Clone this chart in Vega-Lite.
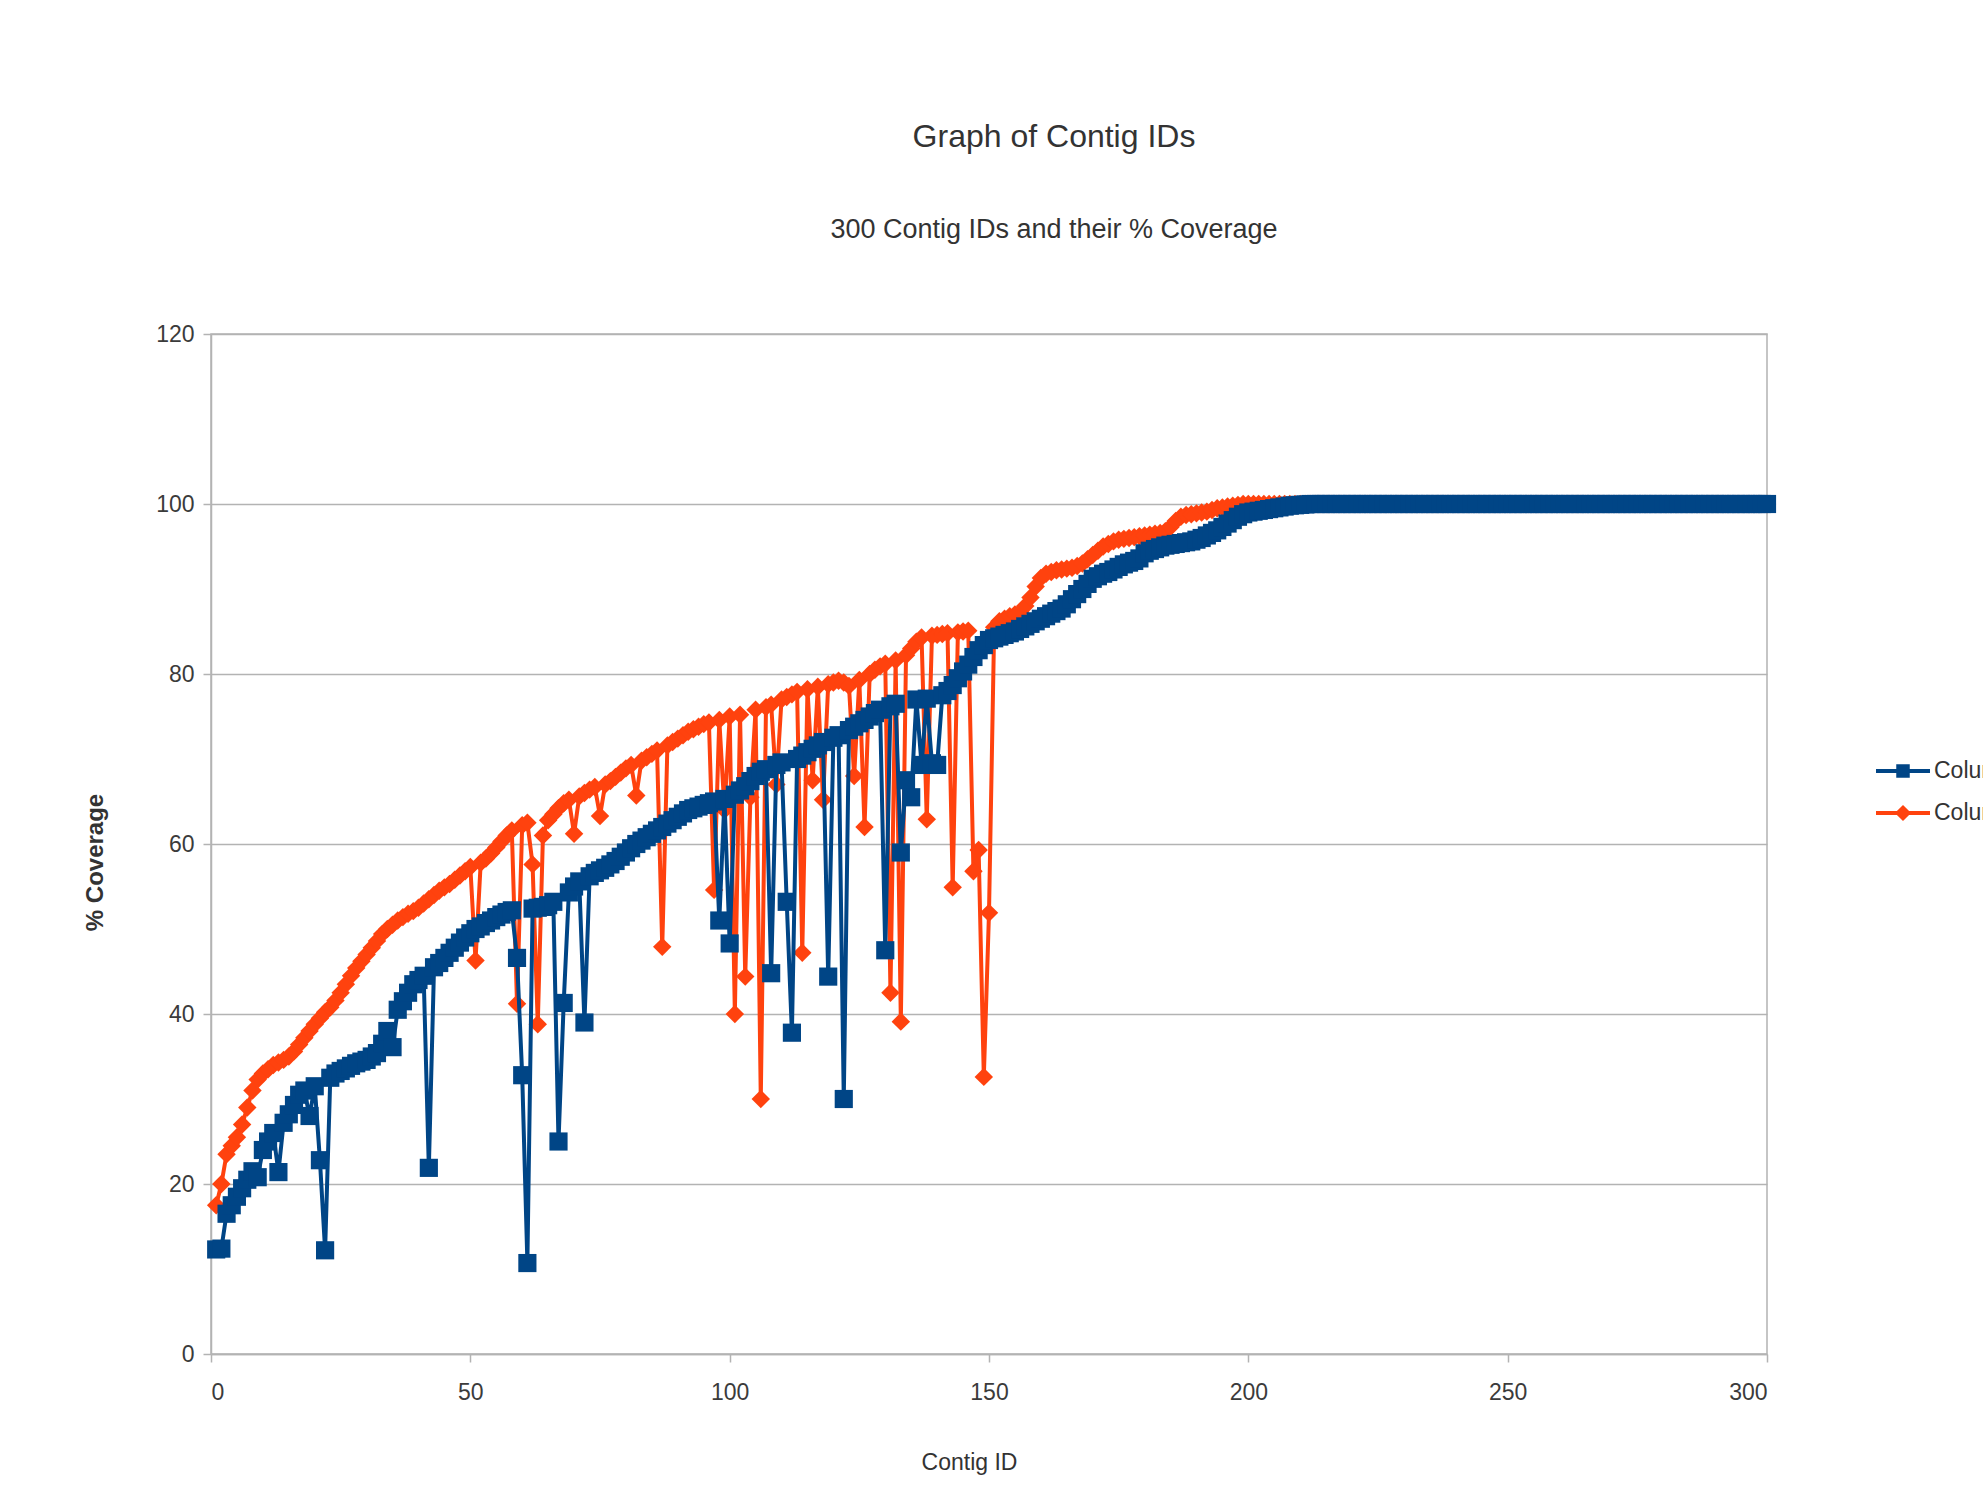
{
"$schema": "https://vega.github.io/schema/vega-lite/v6.json",
"width": 1556,
"height": 1020,
"autosize": {"type": "none"},
"padding": {"left": 211, "top": 334, "right": 216, "bottom": 135},
"background": "white",
"title": {"text": "Graph of Contig IDs", "subtitle": "300 Contig IDs and their % Coverage", "font": "Liberation Sans", "subtitleFont": "Liberation Sans", "fontSize": 32, "subtitleFontSize": 27, "fontWeight": "normal", "color": "#333333", "subtitleColor": "#333333", "anchor": "middle", "dx": 65, "offset": 79, "subtitlePadding": 63},
"data": {"values": [
{"id":1,"B":12.3,"C":17.5},{"id":2,"B":12.4,"C":20},{"id":3,"B":16.5,"C":23.5},{"id":4,"B":17.5,"C":24.5},{"id":5,"B":18.5,"C":25.5},
{"id":6,"B":19.5,"C":27},{"id":7,"B":20.5,"C":29},{"id":8,"B":21.5,"C":31},{"id":9,"B":20.8,"C":32.3},{"id":10,"B":24,"C":33},
{"id":11,"B":25,"C":33.5},{"id":12,"B":26,"C":34},{"id":13,"B":21.4,"C":34.3},{"id":14,"B":27.2,"C":34.6},{"id":15,"B":28.2,"C":35},
{"id":16,"B":29.3,"C":35.6},{"id":17,"B":30.5,"C":36.4},{"id":18,"B":31,"C":37.2},{"id":19,"B":28,"C":38},{"id":20,"B":31.5,"C":38.8},
{"id":21,"B":22.8,"C":39.5},{"id":22,"B":12.2,"C":40.2},{"id":23,"B":32.5,"C":40.8},{"id":24,"B":33,"C":41.6},{"id":25,"B":33.3,"C":42.5},
{"id":26,"B":33.6,"C":43.5},{"id":27,"B":33.9,"C":44.5},{"id":28,"B":34.2,"C":45.4},{"id":29,"B":34.4,"C":46.2},{"id":30,"B":34.6,"C":47},
{"id":31,"B":35,"C":47.8},{"id":32,"B":35.4,"C":48.6},{"id":33,"B":36.5,"C":49.4},{"id":34,"B":38,"C":50},{"id":35,"B":36.1,"C":50.5},
{"id":36,"B":40.5,"C":51},{"id":37,"B":41.5,"C":51.4},{"id":38,"B":42.5,"C":51.8},{"id":39,"B":43.5,"C":52.1},{"id":40,"B":44,"C":52.5},
{"id":41,"B":44.5,"C":53},{"id":42,"B":21.9,"C":53.5},{"id":43,"B":45.5,"C":54},{"id":44,"B":46,"C":54.5},{"id":45,"B":46.6,"C":54.9},
{"id":46,"B":47.2,"C":55.3},{"id":47,"B":47.8,"C":55.8},{"id":48,"B":48.4,"C":56.3},{"id":49,"B":49,"C":56.8},{"id":50,"B":49.5,"C":57.3},
{"id":51,"B":50,"C":46.3},{"id":52,"B":50.3,"C":57.8},{"id":53,"B":50.7,"C":58.3},{"id":54,"B":51,"C":58.9},{"id":55,"B":51.4,"C":59.6},
{"id":56,"B":51.7,"C":60.3},{"id":57,"B":52,"C":61},{"id":58,"B":52.2,"C":61.6},{"id":59,"B":46.6,"C":41.2},{"id":60,"B":32.8,"C":62.2},
{"id":61,"B":10.7,"C":62.5},{"id":62,"B":52.4,"C":57.6},{"id":63,"B":52.5,"C":38.8},{"id":64,"B":52.6,"C":61},{"id":65,"B":52.8,"C":62.8},
{"id":66,"B":53.2,"C":63.5},{"id":67,"B":25,"C":64.2},{"id":68,"B":41.3,"C":64.8},{"id":69,"B":54.3,"C":65.2},{"id":70,"B":55,"C":61.2},
{"id":71,"B":55.6,"C":65.6},{"id":72,"B":39,"C":66},{"id":73,"B":56.2,"C":66.4},{"id":74,"B":56.6,"C":66.7},{"id":75,"B":56.9,"C":63.3},
{"id":76,"B":57.2,"C":67},{"id":77,"B":57.6,"C":67.4},{"id":78,"B":58,"C":67.9},{"id":79,"B":58.5,"C":68.4},{"id":80,"B":59,"C":68.9},
{"id":81,"B":59.5,"C":69.3},{"id":82,"B":60,"C":65.7},{"id":83,"B":60.4,"C":69.8},{"id":84,"B":60.8,"C":70.2},{"id":85,"B":61.2,"C":70.6},
{"id":86,"B":61.6,"C":71},{"id":87,"B":62,"C":47.9},{"id":88,"B":62.4,"C":71.6},{"id":89,"B":62.8,"C":72},{"id":90,"B":63.2,"C":72.4},
{"id":91,"B":63.6,"C":72.8},{"id":92,"B":64,"C":73.2},{"id":93,"B":64.2,"C":73.5},{"id":94,"B":64.4,"C":73.8},{"id":95,"B":64.6,"C":74.1},
{"id":96,"B":64.8,"C":74.3},{"id":97,"B":65,"C":54.6},{"id":98,"B":51,"C":74.6},{"id":99,"B":65.3,"C":64},{"id":100,"B":48.3,"C":75},
{"id":101,"B":65.8,"C":40},{"id":102,"B":66.3,"C":75.2},{"id":103,"B":66.8,"C":44.4},{"id":104,"B":67.4,"C":65.5},{"id":105,"B":68,"C":75.8},
{"id":106,"B":68.5,"C":30},{"id":107,"B":68.8,"C":76.1},{"id":108,"B":44.8,"C":76.4},{"id":109,"B":69.3,"C":67},{"id":110,"B":69.6,"C":77},
{"id":111,"B":53.2,"C":77.3},{"id":112,"B":37.8,"C":77.6},{"id":113,"B":70,"C":77.9},{"id":114,"B":70.4,"C":47.2},{"id":115,"B":70.8,"C":78.2},
{"id":116,"B":71.2,"C":67.5},{"id":117,"B":71.6,"C":78.5},{"id":118,"B":72,"C":65.2},{"id":119,"B":44.4,"C":78.8},{"id":120,"B":72.5,"C":79},
{"id":121,"B":72.8,"C":79.2},{"id":122,"B":30,"C":79},{"id":123,"B":73.4,"C":78.6},{"id":124,"B":73.8,"C":68},{"id":125,"B":74.2,"C":79.3},
{"id":126,"B":74.6,"C":62},{"id":127,"B":75,"C":80},{"id":128,"B":75.4,"C":80.5},{"id":129,"B":75.8,"C":80.9},{"id":130,"B":47.5,"C":81.2},
{"id":131,"B":76.2,"C":42.5},{"id":132,"B":76.5,"C":81.6},{"id":133,"B":59,"C":39.1},{"id":134,"B":67.5,"C":82.2},{"id":135,"B":65.5,"C":83},
{"id":136,"B":77,"C":83.8},{"id":137,"B":69.3,"C":84.3},{"id":138,"B":77.1,"C":62.9},{"id":139,"B":69.5,"C":84.5},{"id":140,"B":69.3,"C":84.6},
{"id":141,"B":77.5,"C":84.7},{"id":142,"B":78,"C":84.8},{"id":143,"B":78.7,"C":54.9},{"id":144,"B":79.5,"C":84.9},{"id":145,"B":80.3,"C":85},
{"id":146,"B":81.1,"C":85.1},{"id":147,"B":82,"C":56.8},{"id":148,"B":82.8,"C":59.3},{"id":149,"B":83.4,"C":32.6},{"id":150,"B":84,"C":51.9},
{"id":151,"B":84.2,"C":85.5},{"id":152,"B":84.4,"C":86.2},{"id":153,"B":84.6,"C":86.5},{"id":154,"B":84.8,"C":86.8},{"id":155,"B":85,"C":87},
{"id":156,"B":85.3,"C":87.3},{"id":157,"B":85.6,"C":88},{"id":158,"B":85.9,"C":89},{"id":159,"B":86.2,"C":90.3},{"id":160,"B":86.5,"C":91.3},
{"id":161,"B":86.8,"C":91.8},{"id":162,"B":87.1,"C":92},{"id":163,"B":87.4,"C":92.2},{"id":164,"B":87.7,"C":92.3},{"id":165,"B":88.2,"C":92.4},
{"id":166,"B":88.8,"C":92.5},{"id":167,"B":89.4,"C":92.7},{"id":168,"B":90,"C":93},{"id":169,"B":90.6,"C":93.5},{"id":170,"B":91.2,"C":94},
{"id":171,"B":91.5,"C":94.5},{"id":172,"B":91.8,"C":95},{"id":173,"B":92,"C":95.3},{"id":174,"B":92.3,"C":95.6},{"id":175,"B":92.6,"C":95.8},
{"id":176,"B":92.9,"C":95.9},{"id":177,"B":93.1,"C":96},{"id":178,"B":93.3,"C":96.1},{"id":179,"B":93.6,"C":96.2},{"id":180,"B":94.2,"C":96.3},
{"id":181,"B":94.5,"C":96.4},{"id":182,"B":94.7,"C":96.5},{"id":183,"B":94.9,"C":96.6},{"id":184,"B":95.1,"C":96.8},{"id":185,"B":95.2,"C":97.3},
{"id":186,"B":95.3,"C":98},{"id":187,"B":95.4,"C":98.5},{"id":188,"B":95.5,"C":98.7},{"id":189,"B":95.6,"C":98.8},{"id":190,"B":95.8,"C":98.9},
{"id":191,"B":96,"C":99},{"id":192,"B":96.3,"C":99.1},{"id":193,"B":96.6,"C":99.3},{"id":194,"B":96.9,"C":99.5},{"id":195,"B":97.3,"C":99.6},
{"id":196,"B":97.7,"C":99.7},{"id":197,"B":98.1,"C":99.8},{"id":198,"B":98.5,"C":99.9},{"id":199,"B":98.8,"C":100},{"id":200,"B":99,"C":100},
{"id":201,"B":99.1,"C":100},{"id":202,"B":99.2,"C":100},{"id":203,"B":99.3,"C":100},{"id":204,"B":99.4,"C":100},{"id":205,"B":99.5,"C":100},
{"id":206,"B":99.6,"C":100},{"id":207,"B":99.7,"C":100},{"id":208,"B":99.8,"C":100},{"id":209,"B":99.85,"C":100},{"id":210,"B":99.9,"C":100},
{"id":211,"B":99.95,"C":100},{"id":212,"B":100,"C":100},{"id":213,"B":100,"C":100},{"id":214,"B":100,"C":100},{"id":215,"B":100,"C":100},
{"id":216,"B":100,"C":100},{"id":217,"B":100,"C":100},{"id":218,"B":100,"C":100},{"id":219,"B":100,"C":100},{"id":220,"B":100,"C":100},
{"id":221,"B":100,"C":100},{"id":222,"B":100,"C":100},{"id":223,"B":100,"C":100},{"id":224,"B":100,"C":100},{"id":225,"B":100,"C":100},
{"id":226,"B":100,"C":100},{"id":227,"B":100,"C":100},{"id":228,"B":100,"C":100},{"id":229,"B":100,"C":100},{"id":230,"B":100,"C":100},
{"id":231,"B":100,"C":100},{"id":232,"B":100,"C":100},{"id":233,"B":100,"C":100},{"id":234,"B":100,"C":100},{"id":235,"B":100,"C":100},
{"id":236,"B":100,"C":100},{"id":237,"B":100,"C":100},{"id":238,"B":100,"C":100},{"id":239,"B":100,"C":100},{"id":240,"B":100,"C":100},
{"id":241,"B":100,"C":100},{"id":242,"B":100,"C":100},{"id":243,"B":100,"C":100},{"id":244,"B":100,"C":100},{"id":245,"B":100,"C":100},
{"id":246,"B":100,"C":100},{"id":247,"B":100,"C":100},{"id":248,"B":100,"C":100},{"id":249,"B":100,"C":100},{"id":250,"B":100,"C":100},
{"id":251,"B":100,"C":100},{"id":252,"B":100,"C":100},{"id":253,"B":100,"C":100},{"id":254,"B":100,"C":100},{"id":255,"B":100,"C":100},
{"id":256,"B":100,"C":100},{"id":257,"B":100,"C":100},{"id":258,"B":100,"C":100},{"id":259,"B":100,"C":100},{"id":260,"B":100,"C":100},
{"id":261,"B":100,"C":100},{"id":262,"B":100,"C":100},{"id":263,"B":100,"C":100},{"id":264,"B":100,"C":100},{"id":265,"B":100,"C":100},
{"id":266,"B":100,"C":100},{"id":267,"B":100,"C":100},{"id":268,"B":100,"C":100},{"id":269,"B":100,"C":100},{"id":270,"B":100,"C":100},
{"id":271,"B":100,"C":100},{"id":272,"B":100,"C":100},{"id":273,"B":100,"C":100},{"id":274,"B":100,"C":100},{"id":275,"B":100,"C":100},
{"id":276,"B":100,"C":100},{"id":277,"B":100,"C":100},{"id":278,"B":100,"C":100},{"id":279,"B":100,"C":100},{"id":280,"B":100,"C":100},
{"id":281,"B":100,"C":100},{"id":282,"B":100,"C":100},{"id":283,"B":100,"C":100},{"id":284,"B":100,"C":100},{"id":285,"B":100,"C":100},
{"id":286,"B":100,"C":100},{"id":287,"B":100,"C":100},{"id":288,"B":100,"C":100},{"id":289,"B":100,"C":100},{"id":290,"B":100,"C":100},
{"id":291,"B":100,"C":100},{"id":292,"B":100,"C":100},{"id":293,"B":100,"C":100},{"id":294,"B":100,"C":100},{"id":295,"B":100,"C":100},
{"id":296,"B":100,"C":100},{"id":297,"B":100,"C":100},{"id":298,"B":100,"C":100},{"id":299,"B":100,"C":100},{"id":300,"B":100,"C":100}
]},
"encoding": {
  "x": {"field": "id", "type": "quantitative", "scale": {"domain": [0, 300], "nice": false, "zero": false},
        "axis": {"values": [0, 50, 100, 150, 200, 250, 300], "grid": false, "title": "Contig ID", "titleX": 758, "titleY": 108, "titleBaseline": "middle"}},
  "y": {"type": "quantitative", "scale": {"domain": [0, 120], "nice": false},
        "axis": {"values": [0, 20, 40, 60, 80, 100, 120], "grid": true, "title": "% Coverage", "titleFontWeight": "bold", "titleFontSize": 24, "titleX": -116, "titleY": 528, "titleBaseline": "middle", "titleAngle": -90}}
},
"layer": [
  {"mark": {"type": "line", "strokeWidth": 4, "clip": false},
   "encoding": {"y": {"field": "C", "type": "quantitative"},
     "color": {"datum": "Column C", "type": "nominal", "scale": {"domain": ["Column B", "Column C"], "range": ["#004586", "#ff420e"]},
       "legend": {"orient": "none", "legendX": 1665, "legendY": 422, "title": null, "padding": 0, "labelFont": "Liberation Sans", "labelFontSize": 23, "labelColor": "#333333", "labelOffset": 4, "symbolSize": 2916, "clipHeight": 30, "rowPadding": 12,
         "symbolType": "M-1,-0.07H1V0.07H-1Z M-0.25,-0.25H0.25V0.25H-0.25Z",
         "encode": {"symbols": {"update": {
           "shape": {"signal": "datum.value === 'Column B' ? 'M-1,-0.07H1V0.07H-1Z M-0.25,-0.25H0.25V0.25H-0.25Z' : 'M-1,-0.07H1V0.07H-1Z M0,-0.3L0.3,0L0,0.3L-0.3,0Z'"},
           "fill": {"signal": "datum.value === 'Column B' ? '#004586' : '#ff420e'"},
           "fillOpacity": {"value": 1},
           "stroke": {"value": "transparent"},
           "strokeWidth": {"value": 0},
           "opacity": {"value": 1}}}}}}}},
  {"mark": {"type": "point", "shape": "diamond", "filled": true, "size": 340, "opacity": 1, "clip": false},
   "encoding": {"y": {"field": "C", "type": "quantitative"},
     "color": {"datum": "Column C", "type": "nominal"}}},
  {"mark": {"type": "line", "strokeWidth": 4, "clip": false},
   "encoding": {"y": {"field": "B", "type": "quantitative"},
     "color": {"datum": "Column B", "type": "nominal"}}},
  {"mark": {"type": "point", "shape": "square", "filled": true, "size": 330, "opacity": 1, "clip": false},
   "encoding": {"y": {"field": "B", "type": "quantitative"},
     "color": {"datum": "Column B", "type": "nominal"}}}
],
"config": {
  "font": "Liberation Sans",
  "view": {"stroke": "#b3b3b3", "strokeWidth": 1.5},
  "axis": {"domainColor": "#b3b3b3", "domainWidth": 1.5, "tickColor": "#b3b3b3", "tickWidth": 1.5, "tickSize": 8, "gridColor": "#b3b3b3", "gridWidth": 1.5, "labelFont": "Liberation Sans", "labelFontSize": 23, "labelColor": "#3b3b3b", "titleFont": "Liberation Sans", "titleFontSize": 23, "titleFontWeight": "normal", "titleColor": "#333333"},
  "axisX": {"labelPadding": 19},
  "axisY": {"labelPadding": 9}
}
}
